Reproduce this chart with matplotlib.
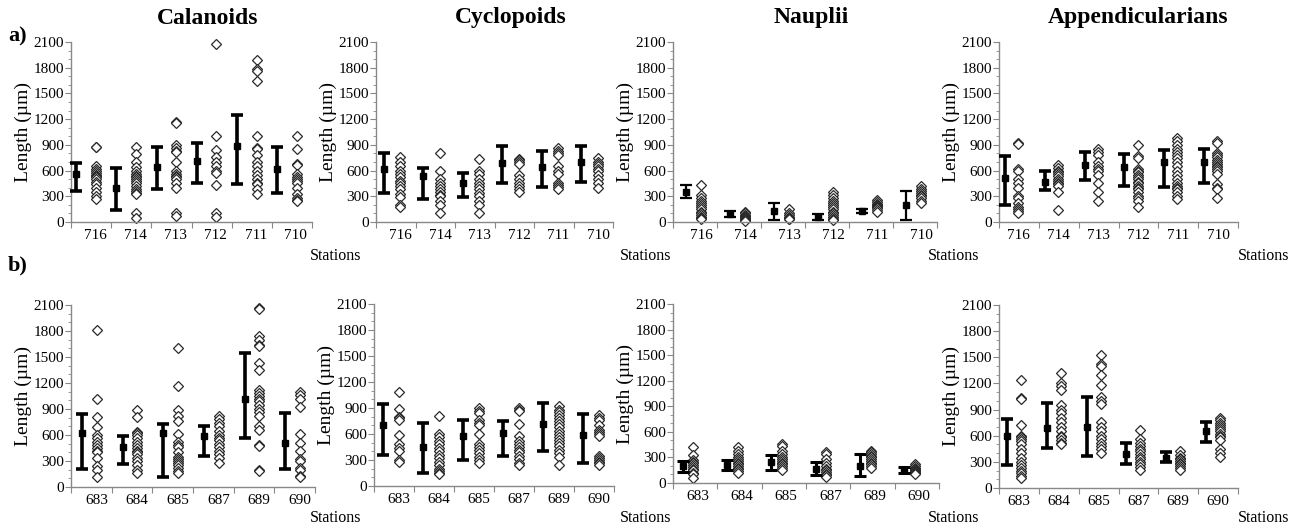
import numpy as np
import matplotlib.pyplot as plt
from matplotlib.ticker import MultipleLocator

plt.rcParams['font.family'] = ['Liberation Serif', 'DejaVu Serif']

W, H = 1302, 531

stations_a = ['716', '714', '713', '712', '711', '710']
stations_b = ['683', '684', '685', '687', '689', '690']

# ---- a) Calanoids ----
cal_a_mean = [560, 393, 638, 708, 891, 618]
cal_a_lo = [362, 140, 385, 459, 443, 334]
cal_a_hi = [684, 626, 873, 918, 1248, 879]
cal_a_pts = [
    [880, 870, 650, 620, 590, 570, 550, 540, 520, 500, 470, 440, 400, 350, 300, 270],
    [880, 790, 700, 640, 600, 560, 540, 520, 500, 480, 450, 420, 390, 360, 340, 330, 100, 50],
    [1170, 1150, 900, 860, 830, 820, 700, 600, 560, 540, 520, 500, 450, 400, 100, 70],
    [2080, 1000, 840, 760, 700, 650, 600, 570, 430, 100, 60],
    [1890, 1780, 1760, 1650, 1000, 860, 850, 780, 700, 650, 600, 550, 500, 460, 440, 380, 330],
    [1000, 850, 680, 670, 560, 530, 500, 480, 450, 400, 330, 280, 260, 240],
]

# ---- a) Cyclopoids ----
cyc_a_mean = [614, 540, 451, 684, 646, 704]
cyc_a_lo = [342, 264, 288, 451, 412, 471]
cyc_a_hi = [801, 630, 568, 891, 828, 891]
cyc_a_pts = [
    [760, 700, 650, 600, 560, 520, 480, 450, 420, 380, 330, 290, 200, 170],
    [800, 600, 500, 450, 420, 380, 350, 320, 300, 250, 200, 100],
    [740, 600, 560, 500, 450, 420, 380, 340, 300, 250, 200, 100],
    [740, 720, 700, 680, 550, 500, 450, 420, 380, 350],
    [860, 830, 800, 780, 650, 600, 560, 450, 430, 410, 380],
    [750, 700, 680, 650, 620, 600, 550, 500, 460, 400],
]

# ---- a) Nauplii ----
nau_a_mean = [346, 93, 124, 62, 128, 202]
nau_a_lo = [276, 54, 23, 23, 101, 23]
nau_a_hi = [432, 132, 218, 89, 148, 362]
nau_a_pts = [
    [430, 320, 280, 250, 220, 200, 180, 150, 120, 100, 80, 60, 50, 40],
    [120, 100, 80, 70, 60, 50, 40, 30, 20, 10],
    [150, 100, 80, 60, 50, 40, 30],
    [350, 320, 280, 250, 220, 200, 180, 150, 120, 100, 80, 60, 40, 30, 20],
    [260, 230, 210, 200, 190, 180, 170, 160, 140, 120],
    [420, 390, 360, 340, 320, 300, 280, 250, 220],
]

# ---- a) Appendicularians ----
app_a_mean = [509, 470, 665, 646, 696, 696]
app_a_lo = [198, 369, 490, 424, 412, 451]
app_a_hi = [774, 591, 821, 790, 836, 852]
app_a_pts = [
    [920, 910, 620, 600, 500, 450, 400, 300, 280, 220, 180, 150, 130, 110],
    [660, 630, 600, 580, 560, 540, 500, 480, 460, 440, 420, 350, 140],
    [850, 820, 780, 700, 650, 620, 600, 550, 450, 350, 250],
    [900, 770, 750, 620, 600, 580, 550, 520, 500, 470, 450, 420, 400, 380, 350, 300, 280, 250, 180],
    [980, 950, 900, 850, 820, 780, 750, 700, 650, 600, 550, 500, 450, 420, 400, 380, 350, 300, 270],
    [940, 920, 800, 780, 760, 720, 700, 680, 650, 640, 620, 600, 560, 440, 400, 380, 280],
]

# ---- b) Calanoids ----
cal_b_mean = [628, 462, 624, 586, 1021, 512]
cal_b_lo = [204, 262, 116, 358, 566, 212]
cal_b_hi = [840, 590, 724, 701, 1541, 855]
cal_b_pts = [
    [1810, 1010, 810, 690, 600, 560, 520, 480, 450, 420, 400, 330, 240, 200, 110],
    [890, 810, 640, 620, 600, 560, 520, 480, 450, 420, 400, 380, 340, 300, 250, 200, 160],
    [1600, 1170, 890, 820, 760, 610, 520, 490, 460, 400, 350, 320, 300, 280, 250, 220, 190, 160],
    [820, 790, 740, 700, 650, 600, 570, 540, 500, 460, 420, 380, 330, 280],
    [2070, 2050, 1740, 1700, 1640, 1630, 1430, 1350, 1120, 1080, 1050, 1010, 990, 950, 900,
     860, 820, 700, 660, 490, 470, 200, 190],
    [1100, 1060, 1010, 920, 610, 510, 410, 320, 300, 220, 200, 130, 110],
]

# ---- b) Cyclopoids ----
cyc_b_mean = [705, 447, 578, 609, 717, 590]
cyc_b_lo = [358, 146, 300, 347, 405, 270]
cyc_b_hi = [948, 732, 763, 755, 956, 828]
cyc_b_pts = [
    [1090, 890, 800, 780, 760, 590, 480, 440, 400, 300, 280],
    [810, 600, 560, 520, 480, 440, 400, 360, 320, 280, 240, 200, 170, 150, 140],
    [900, 870, 840, 760, 730, 700, 600, 480, 450, 420, 380, 340, 300, 260],
    [900, 880, 860, 720, 580, 520, 480, 450, 420, 390, 350, 310, 270, 240],
    [920, 880, 850, 820, 790, 750, 720, 680, 640, 600, 560, 530, 500, 460, 420, 380, 340, 240],
    [820, 780, 760, 700, 650, 620, 600, 580, 350, 320, 300, 280, 260, 240],
]

# ---- b) Nauplii ----
nau_b_mean = [195, 207, 246, 164, 203, 156]
nau_b_lo = [133, 148, 156, 98, 78, 117]
nau_b_hi = [262, 273, 332, 242, 340, 187]
nau_b_pts = [
    [420, 330, 270, 250, 230, 210, 190, 170, 150, 120, 100, 60],
    [420, 380, 340, 300, 280, 260, 240, 220, 200, 180, 160, 140, 120],
    [460, 430, 380, 340, 310, 280, 260, 240, 220, 200, 180, 150],
    [360, 340, 280, 240, 200, 170, 150, 130, 110, 90, 70],
    [380, 360, 340, 320, 300, 280, 260, 240, 220, 200, 180],
    [220, 200, 180, 160, 150, 140, 130, 120, 110],
]

# ---- b) Appendicularians ----
app_b_mean = [595, 691, 703, 395, 345, 649]
app_b_lo = [261, 461, 365, 276, 296, 530]
app_b_hi = [787, 979, 1048, 518, 415, 756]
app_b_pts = [
    [1240, 1030, 1020, 720, 600, 580, 560, 540, 500, 450, 400, 350, 300, 260, 230, 200, 170, 140, 110],
    [1320, 1200, 1170, 1120, 950, 900, 860, 800, 760, 700, 650, 600, 580, 550, 520, 500],
    [1530, 1420, 1400, 1300, 1180, 1050, 1000, 960, 760, 700, 650, 600, 560, 520, 480, 450, 400],
    [660, 560, 520, 480, 450, 420, 390, 360, 330, 300, 270, 240, 210],
    [430, 380, 350, 330, 310, 290, 270, 250, 230, 210],
    [800, 780, 750, 720, 700, 680, 650, 620, 600, 580, 550, 450, 400, 360],
]

titles = ['Calanoids', 'Cyclopoids', 'Nauplii', 'Appendicularians']


def px_rect(left, right, top, bottom):
    return [left / W, 1 - bottom / H, (right - left) / W, (bottom - top) / H]


def draw_panel(fig, rect, stations, mean, lo, hi, pts, offs, bar_lw=2.6):
    ax = fig.add_axes(rect)
    bar_off, dot_off, lab_off = offs
    n = len(stations)
    x = np.arange(n)
    mean = np.asarray(mean, dtype=float)
    lo = np.asarray(lo, dtype=float)
    hi = np.asarray(hi, dtype=float)

    # 散点（每个个体）
    for i, vals in enumerate(pts):
        ax.plot(np.full(len(vals), i + dot_off), vals, ls='none', marker='D',
                ms=5.4, mfc='white', mec='#2a2a2a', mew=0.9, clip_on=False, zorder=2)

    # 均值 ± 标准差
    ax.errorbar(x + bar_off, mean, yerr=[mean - lo, hi - mean], fmt='s',
                color='black', ms=4, elinewidth=bar_lw, capsize=4,
                capthick=bar_lw, clip_on=False, zorder=3)

    ax.set_xlim(0, n)
    ax.set_ylim(0, 2100)
    ax.set_xticks(np.arange(n + 1))
    ax.set_xticklabels([])
    ax.set_xticks(x + lab_off, labels=stations, minor=True)
    ax.tick_params(axis='x', which='minor', length=0, labelsize=11, pad=5)
    ax.tick_params(axis='x', which='major', length=4, color='#888888')

    ax.yaxis.set_major_locator(MultipleLocator(300))
    ax.yaxis.set_minor_locator(MultipleLocator(100))
    ax.tick_params(axis='y', which='major', length=4, color='#888888',
                   labelsize=11, pad=1)
    ax.tick_params(axis='y', which='minor', length=2.5, color='#888888')
    ax.set_ylabel('Length (\u00b5m)', fontsize=14, labelpad=1)

    for side in ['top', 'right']:
        ax.spines[side].set_visible(False)
    for side in ['left', 'bottom']:
        ax.spines[side].set_color('#888888')
        ax.spines[side].set_linewidth(1.0)
    ax.set_facecolor('none')
    return ax


fig = plt.figure(figsize=(W / 100, H / 100), dpi=100)

row_a = [
    (px_rect(71, 312, 42, 222), cal_a_mean, cal_a_lo, cal_a_hi, cal_a_pts, (0.13, 0.62, 0.6), 2.6),
    (px_rect(376, 613, 42, 222), cyc_a_mean, cyc_a_lo, cyc_a_hi, cyc_a_pts, (0.19, 0.62, 0.62), 2.6),
    (px_rect(673, 937, 42, 222), nau_a_mean, nau_a_lo, nau_a_hi, nau_a_pts, (0.3, 0.63, 0.65), 1.6),
    (px_rect(999, 1238, 42, 222), app_a_mean, app_a_lo, app_a_hi, app_a_pts, (0.15, 0.48, 0.5), 2.6),
]
row_b = [
    (px_rect(71, 315, 305, 487), cal_b_mean, cal_b_lo, cal_b_hi, cal_b_pts, (0.27, 0.63, 0.63), 2.6),
    (px_rect(374, 614, 304, 486), cyc_b_mean, cyc_b_lo, cyc_b_hi, cyc_b_pts, (0.23, 0.63, 0.63), 2.6),
    (px_rect(673, 939, 304, 483), nau_b_mean, nau_b_lo, nau_b_hi, nau_b_pts, (0.22, 0.46, 0.55), 2.2),
    (px_rect(999, 1238, 305, 488), app_b_mean, app_b_lo, app_b_hi, app_b_pts, (0.2, 0.55, 0.5), 2.6),
]

for rect, m, lo, hi, pts, offs, lw in row_a:
    draw_panel(fig, rect, stations_a, m, lo, hi, pts, offs, lw)
for rect, m, lo, hi, pts, offs, lw in row_b:
    draw_panel(fig, rect, stations_b, m, lo, hi, pts, offs, lw)

# 标题
for t, cx in zip(titles, [208, 511, 811, 1138]):
    fig.text(cx / W, 1 - 18 / H, t, ha='center', va='center',
             fontsize=17, fontweight='bold')

fig.text(8 / W, 1 - 36 / H, 'a)', ha='left', va='center', fontsize=16, fontweight='bold')
fig.text(8 / W, 1 - 265 / H, 'b)', ha='left', va='center', fontsize=16, fontweight='bold')

# Stations 标签
for xr in [310, 620, 928, 1238]:
    fig.text(xr / W, 1 - 256 / H, 'Stations', ha='left', va='center', fontsize=11.5)
for xr in [310, 620, 928, 1238]:
    fig.text(xr / W, 1 - 518 / H, 'Stations', ha='left', va='center', fontsize=11.5)

fig.savefig('out.png', dpi=100)
